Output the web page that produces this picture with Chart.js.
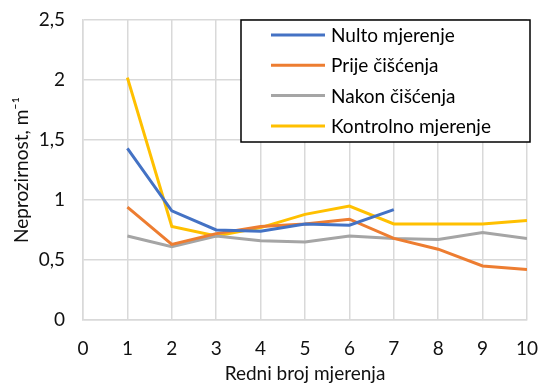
<!DOCTYPE html>
<html><head><meta charset="utf-8">
<script src="https://cdn.jsdelivr.net/npm/chart.js@4/dist/chart.umd.min.js"></script>
<style>html,body{margin:0;padding:0;background:#fff}#wrap{width:541px;height:389px}</style>
</head><body><div id="wrap"><canvas id="c" width="541" height="389"></canvas></div>
<script>
const xValues = [1,2,3,4,5,6,7,8,9,10];
const seriesNames = ['Nulto mjerenje','Prije čišćenja','Nakon čišćenja','Kontrolno mjerenje'];
const nulto = [1.43,0.91,0.75,0.74,0.80,0.79,0.92,null,null,null];
const prije = [0.94,0.63,0.72,0.78,0.80,0.84,0.68,0.59,0.45,0.42];
const nakon = [0.70,0.61,0.70,0.66,0.65,0.70,0.68,0.67,0.73,0.68];
const kontrolno = [2.02,0.78,0.70,0.77,0.88,0.95,0.80,0.80,0.80,0.83];
const yTicks = [0,0.5,1,1.5,2,2.5];
const colors = ['#4472C4','#ED7D31','#A5A5A5','#FFC000'];
const FONT = 'Lato, "Open Sans", sans-serif';
const FS = 19;

function pts(arr){ return xValues.map((x,i)=>({x:x,y:arr[i]})); }
const all=[nulto,prije,nakon,kontrolno];
const datasets = all.map((a,i)=>({label:seriesNames[i],data:pts(a),borderColor:colors[i],backgroundColor:colors[i],borderWidth:3,pointRadius:0,tension:0,spanGaps:false,fill:false}));

const legendBox = {
  id:'legendBox',
  afterDraw(chart){
    const ctx=chart.ctx;
    const x0=241,y0=20,w=289,h=122;
    ctx.save();
    ctx.fillStyle='#fff';ctx.fillRect(x0,y0,w,h);
    ctx.strokeStyle='#000';ctx.lineWidth=1.5;ctx.strokeRect(x0,y0,w,h);
    ctx.font=FS+'px '+FONT;ctx.textBaseline='middle';ctx.fillStyle='#000';
    chart.data.datasets.forEach((d,i)=>{
      const y=y0+15+i*30.3;
      ctx.strokeStyle=d.borderColor;ctx.lineWidth=3;
      ctx.beginPath();ctx.moveTo(271,y);ctx.lineTo(325,y);ctx.stroke();
      ctx.fillText(d.label,331,y+1);
    });
    ctx.restore();
  }
};

new Chart(document.getElementById('c'),{
  type:'line',
  data:{datasets:datasets},
  options:{
    responsive:false,animation:false,
    layout:{padding:{left:0,right:14,top:20,bottom:0}},
    plugins:{legend:{display:false},tooltip:{enabled:false}},
    scales:{
      x:{type:'linear',min:0,max:10,
        ticks:{stepSize:1,color:'#111',font:{family:FONT,size:FS},padding:17},
        grid:{color:'#d9d9d9',lineWidth:1.5,drawTicks:false},
        border:{color:'#d9d9d9',width:1.5},
        title:{display:true,text:'Redni broj mjerenja',color:'#111',font:{family:FONT,size:FS},padding:{top:2}},
        afterFit(s){s.height=69;s.paddingLeft=0;s.paddingRight=0;}
      },
      y:{min:0,max:2.5,
        afterBuildTicks(s){s.ticks=yTicks.map(v=>({value:v}));},
        ticks:{color:'#111',font:{family:FONT,size:FS},padding:18,callback:v=>String(v).replace('.',',')},
        grid:{color:'#d9d9d9',lineWidth:1.5,drawTicks:false},
        border:{color:'#d9d9d9',width:1.5},
        title:{display:true,text:'Neprozirnost, m⁻¹',color:'#111',font:{family:FONT,size:FS},padding:{top:10,bottom:4}},
        afterFit(s){s.width=83;s.paddingTop=0;s.paddingBottom=0;}
      }
    }
  },
  plugins:[legendBox]
});
</script></body></html>
